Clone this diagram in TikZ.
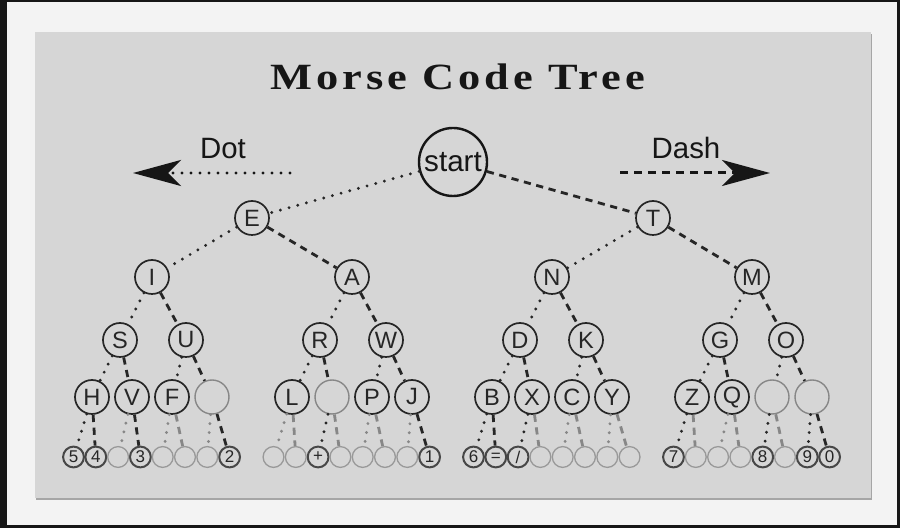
\documentclass[tikz,border=0pt]{standalone}
\usepackage{fontspec}
\setmainfont{Liberation Sans}
\newfontfamily\titlefont[LetterSpace=9]{Liberation Serif}
\usetikzlibrary{arrows.meta}
\definecolor{panel}{RGB}{214,214,214}
\definecolor{outer}{RGB}{243,243,243}
\definecolor{frame}{RGB}{22,22,22}
\definecolor{ink}{RGB}{38,38,38}
\definecolor{faint}{RGB}{135,135,135}
\begin{document}
\begin{tikzpicture}[x=0.5pt,y=-0.5pt,
  dotedge/.style={line width=1.6pt, line cap=round, dash pattern=on 0pt off 4.5pt, draw=ink},
  dashedge/.style={line width=1.4pt, dash pattern=on 3.6pt off 2.8pt, draw=ink},
  big/.style={circle, draw=ink, line width=0.85pt, minimum size=17pt, inner sep=0pt, font=\fontsize{11.8}{12}\selectfont, text=ink},
  bigempty/.style={big, draw=faint, line width=0.7pt},
  small/.style={circle, draw=ink!85, line width=1pt, minimum size=10.4pt, inner sep=0pt, font=\fontsize{8.5}{9}\selectfont, text=ink},
  smallempty/.style={small, draw=faint!85, line width=0.65pt},
  arrowhead/.style={-{Stealth[length=24pt,width=13pt,inset=6.5pt]}}
]
% background
\fill[frame] (0,0) rectangle (900,528);
\fill[outer] (7,2) rectangle (897,525);
\fill[black!35] (36,34) rectangle (872,500);
\fill[panel] (35,32) rectangle (871,498);

% title
\node[anchor=base, font=\titlefont\bfseries\fontsize{18.5}{22}\selectfont, text=frame] (title) at (458,90) {\scalebox{1.2}[1]{Morse Code Tree}};

% legend
\node[anchor=base, font=\fontsize{14.7}{16}\selectfont, text=frame] (dotlbl) at (223,159) {Dot};
\node[anchor=base, font=\fontsize{14.7}{16}\selectfont, text=frame] (dashlbl) at (686,159) {Dash};
\coordinate (dotS) at (290,173);
\coordinate (dotE) at (133,173);
\coordinate (dashS) at (620,173);
\coordinate (dashE) at (770,173);
\draw[dotedge, line width=1.7pt, draw=frame, arrowhead] (dotS) -- (dotE);
\draw[dashedge, line width=1.5pt, dash pattern=on 4pt off 3pt, draw=frame, arrowhead] (dashS) -- (dashE);

% root
\node[circle, draw=frame, line width=1.2pt, minimum size=34pt, inner sep=0pt, font=\fontsize{14.8}{16}\selectfont, text=frame] (n1) at (453,162) {start};

% level 1
\node[big] (n2) at (252,218) {E};
\node[big] (n3) at (653,218) {T};

% level 2
\foreach \k/\t [count=\j from 0] in {4/I,5/A,6/N,7/M}
  \node[big] (n\k) at ({152+200*\j},277) {\t};

% level 3
\foreach \k/\t [count=\j from 0] in {8/S,9/U,10/R,11/W,12/D,13/K,14/G,15/O}
  \node[big] (n\k) at ({120+200*floor(\j/2)+66*mod(\j,2)},340) {\t};

% level 4
\foreach \k/\t in {16/H,17/V,18/F,20/L,22/P,23/J,24/B,25/X,26/C,27/Y,28/Z,29/Q}
  \node[big] (n\k) at ({92+200*floor((\k-16)/4)+40*mod(\k-16,4)},397) {\t};
\foreach \k in {19,21,30,31}
  \node[bigempty] (n\k) at ({92+200*floor((\k-16)/4)+40*mod(\k-16,4)},397) {};

% level 5
\foreach \k/\t in {32/5,33/4,35/3,39/2,42/+,47/1,48/6,49/=,50/{/},56/7,60/8,62/9,63/0}
  \node[small] (n\k) at ({73.5+200*floor((\k-32)/8)+22.3*mod(\k-32,8)},457) {\t};
\foreach \k in {34,36,37,38,40,41,43,44,45,46,51,52,53,54,55,57,58,59,61}
  \node[smallempty] (n\k) at ({73.5+200*floor((\k-32)/8)+22.3*mod(\k-32,8)},457) {};

% connectors, levels 0-4
\foreach \k in {1,...,15} {
  \pgfmathtruncatemacro\a{2*\k}
  \pgfmathtruncatemacro\b{2*\k+1}
  \draw[dotedge] (n\k) -- (n\a);
  \draw[dashedge] (n\k) -- (n\b);
}
% connectors to level 5
\foreach \c/\col in {32/ink,33/ink,34/faint,35/ink,36/faint,37/faint,38/faint,39/ink,
  40/faint,41/faint,42/ink,43/faint,44/faint,45/faint,46/faint,47/ink,
  48/ink,49/ink,50/ink,51/faint,52/faint,53/faint,54/faint,55/faint,
  56/ink,57/faint,58/faint,59/faint,60/ink,61/faint,62/ink,63/ink} {
  \pgfmathtruncatemacro\p{floor(\c/2)}
  \ifodd\c
    \draw[dashedge, draw=\col] (n\p) -- (n\c);
  \else
    \draw[dotedge, draw=\col] (n\p) -- (n\c);
  \fi
}
\end{tikzpicture}
\end{document}
